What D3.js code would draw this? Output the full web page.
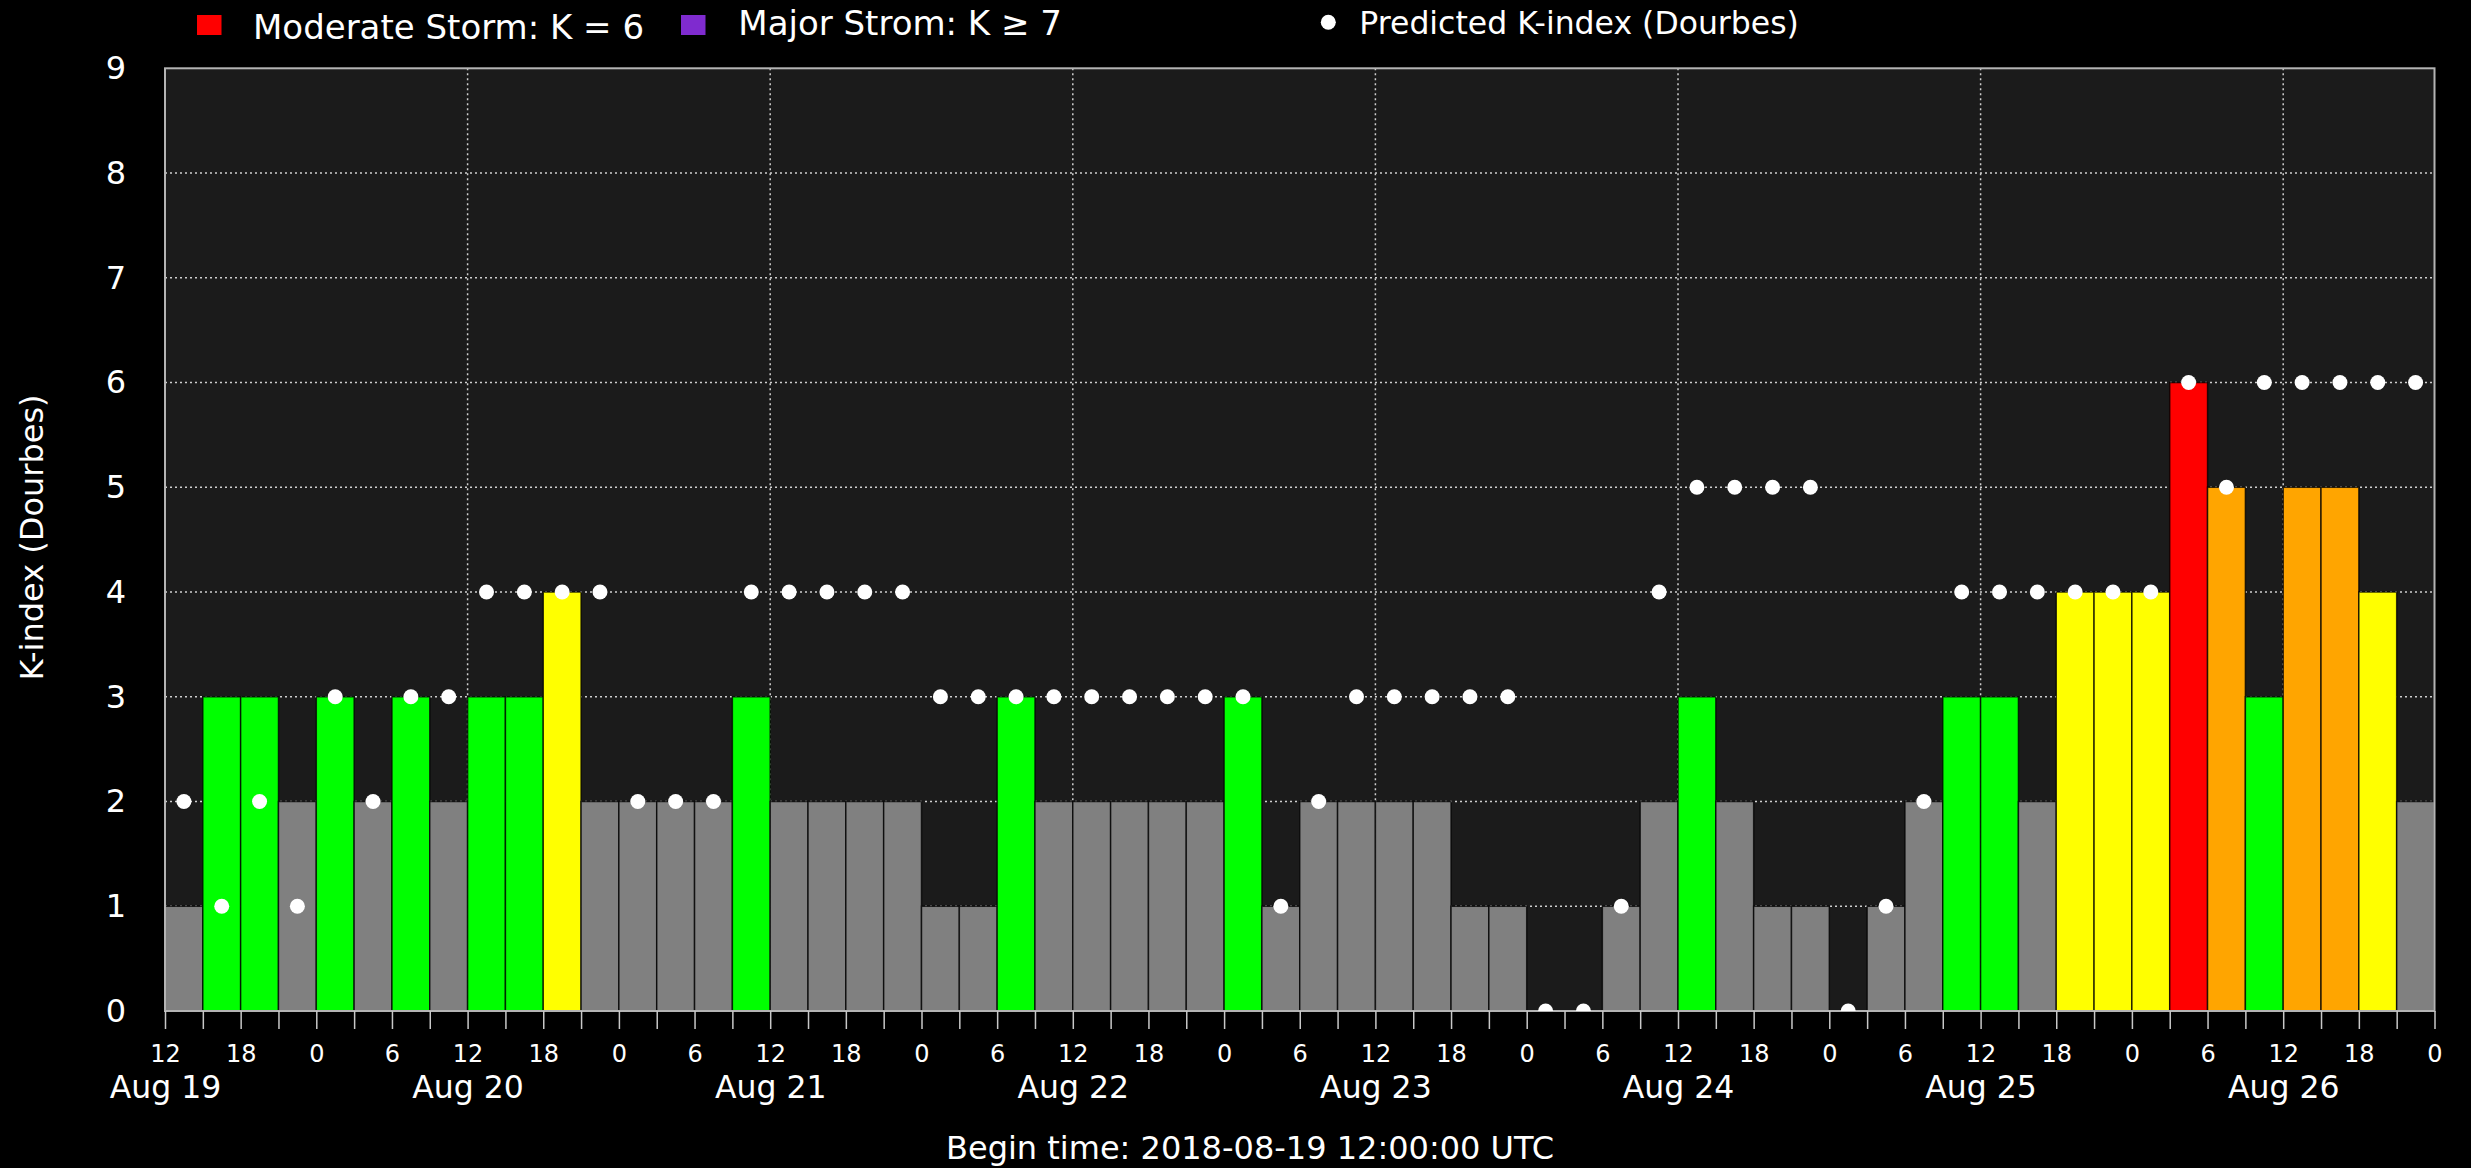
<!DOCTYPE html>
<html><head><meta charset="utf-8">
<script src="https://cdn.jsdelivr.net/npm/d3@7"></script>
<style>
html,body{margin:0;padding:0;background:#000;}
svg{display:block;}
text{font-family:"DejaVu Sans",sans-serif;fill:#fff;}
</style>
</head><body>
<script>
// ---------- DATA ----------
const beginTime = "2018-08-19T12:00:00Z";
const endTime = "2018-08-27T00:00:00Z";
const binHours = 3;
// Observed K-index per 3-hour bin (Dourbes)
const observedK = [1,3,3,2,3,2,3,2,3,3,4,2,
                   2,2,2,3,2,2,2,2,
                   1,1,3,2,2,2,2,2,
                   3,1,2,2,2,2,1,1,
                   0,0,1,2,3,2,1,1,
                   0,1,2,3,3,2,4,4,
                   4,6,5,3,5,5,4,2];
// Predicted K-index per 3-hour bin
const predictedK = [2,1,2,1,3,2,3,3,4,4,4,4,
                    2,2,2,4,4,4,4,4,
                    3,3,3,3,3,3,3,3,
                    3,1,2,3,3,3,3,3,
                    0,0,1,4,5,5,5,5,
                    0,1,2,4,4,4,4,4,
                    4,6,5,6,6,6,6,6];
const yTicks = [0,1,2,3,4,5,6,7,8,9];
const dayLabels = ["Aug 19","Aug 20","Aug 21","Aug 22","Aug 23","Aug 24","Aug 25","Aug 26"];
const kThresholds = [3,4,5,6,7];
const kColors = ["#808080","#00ff00","#ffff00","#ffa500","#ff0000","#7f2bcf"];
const legendLabels = ["Moderate Storm: K = 6","Major Strom: K \u2265 7","Predicted K-index (Dourbes)"];
const yLabel = "K-index (Dourbes)";
const footer = "Begin time: 2018-08-19 12:00:00 UTC";

// ---------- LAYOUT ----------
const W = 2471, H = 1168;
const plot = {left:165, right:2434.5, top:68.3, bottom:1011};

const t0 = new Date(beginTime), t1 = new Date(endTime);
const HOUR = 3600*1000;
const bins = observedK.map((k,i)=>({
  start:new Date(+t0 + i*binHours*HOUR),
  end:new Date(+t0 + (i+1)*binHours*HOUR),
  k, p:predictedK[i]
}));

const x = d3.scaleUtc().domain([t0,t1]).range([plot.left, plot.right]);
const y = d3.scaleLinear().domain([0,9]).range([plot.bottom, plot.top]);
const color = d3.scaleThreshold().domain(kThresholds).range(kColors);

const svg = d3.select("body").append("svg").attr("width",W).attr("height",H);
svg.append("rect").attr("width",W).attr("height",H).attr("fill","#000");

svg.append("defs").append("clipPath").attr("id","clip")
  .append("rect").attr("x",plot.left).attr("y",plot.top)
  .attr("width",plot.right-plot.left).attr("height",plot.bottom-plot.top);

// plot background
svg.append("rect").attr("x",plot.left).attr("y",plot.top)
  .attr("width",plot.right-plot.left).attr("height",plot.bottom-plot.top)
  .attr("fill","#1b1b1b");

// tick positions
const tickDates = d3.utcHour.every(binHours).range(t0, new Date(+t1+1));
const majorTicks = tickDates.filter(d=>d.getUTCHours()===12);

// gridlines
const grid = svg.append("g").attr("stroke","#cfcfcf").attr("stroke-width",1.5).attr("stroke-dasharray","2,3");
grid.selectAll("line.h").data(yTicks.slice(1,-1)).join("line").attr("class","h")
  .attr("x1",plot.left).attr("x2",plot.right).attr("y1",d=>y(d)).attr("y2",d=>y(d));
grid.selectAll("line.v").data(majorTicks).join("line").attr("class","v")
  .attr("x1",d=>x(d)).attr("x2",d=>x(d)).attr("y1",plot.top).attr("y2",plot.bottom);

// bars
svg.append("g").selectAll("rect").data(bins.filter(b=>b.k>0)).join("rect")
  .attr("x",d=>x(d.start)).attr("width",d=>x(d.end)-x(d.start))
  .attr("y",d=>y(d.k)).attr("height",d=>y(0)-y(d.k))
  .attr("fill",d=>color(d.k))
  .attr("stroke","#000").attr("stroke-opacity",0.75).attr("stroke-width",1.5);

// spines
svg.append("rect").attr("x",plot.left).attr("y",plot.top)
  .attr("width",plot.right-plot.left).attr("height",plot.bottom-plot.top)
  .attr("fill","none").attr("stroke","#b4b4b4").attr("stroke-width",2);

// predicted dots
svg.append("g").attr("clip-path","url(#clip)").selectAll("circle").data(bins).join("circle")
  .attr("cx",d=>x(new Date((+d.start + +d.end)/2))).attr("cy",d=>y(d.p))
  .attr("r",7.5).attr("fill","#fff");

// x axis: hour ticks
const xAxis = d3.axisBottom(x).tickValues(tickDates).tickSize(18).tickPadding(16)
  .tickFormat(d=> d.getUTCHours()%6===0 ? String(d.getUTCHours()) : "");
const gx = svg.append("g").attr("transform",`translate(0,${plot.bottom})`).call(xAxis);
gx.select(".domain").remove();
gx.selectAll("line").attr("stroke","#c8c8c8").attr("stroke-width",1.5);
gx.selectAll("text").attr("fill","#fff").style("font-size","24px").style("font-family","DejaVu Sans");

// x axis: day labels
const dAxis = d3.axisBottom(x).tickValues(majorTicks).tickSize(0).tickPadding(65)
  .tickFormat((d,i)=>dayLabels[i]);
const gd = svg.append("g").attr("transform",`translate(0,${plot.bottom})`).call(dAxis);
gd.select(".domain").remove();
gd.selectAll("text").attr("fill","#fff").style("font-size","31.5px").style("font-family","DejaVu Sans");

// y axis
const yAxis = d3.axisLeft(y).tickValues(yTicks).tickSize(0).tickPadding(39).tickFormat(d3.format("d"));
const gy = svg.append("g").attr("transform",`translate(${plot.left},0)`).call(yAxis);
gy.select(".domain").remove();
gy.selectAll("text").attr("fill","#fff").style("font-size","32px").style("font-family","DejaVu Sans");

// y label
svg.append("text").attr("transform","translate(43,537.5) rotate(-90)")
  .attr("text-anchor","middle").style("font-size","32px").text(yLabel);

// footer
svg.append("text").attr("x",1250).attr("y",1159).attr("text-anchor","middle")
  .style("font-size","32px").text(footer);

// legend
const lg = svg.append("g");
lg.append("rect").attr("x",197).attr("y",15).attr("width",24.5).attr("height",20).attr("fill",color(6));
lg.append("text").attr("x",253).attr("y",39).style("font-size","34px").text(legendLabels[0]);
lg.append("rect").attr("x",681).attr("y",15).attr("width",24.5).attr("height",20).attr("fill",color(7));
lg.append("text").attr("x",738.3).attr("y",35).style("font-size","34px").text(legendLabels[1]);
lg.append("circle").attr("cx",1328.3).attr("cy",22.3).attr("r",7.5).attr("fill","#fff");
lg.append("text").attr("x",1359.3).attr("y",34).style("font-size","31.5px").text(legendLabels[2]);
</script>
</body></html>
